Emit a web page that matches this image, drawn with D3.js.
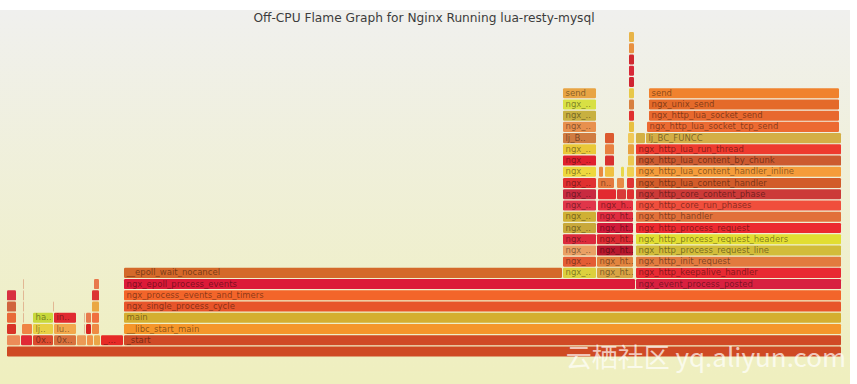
<!DOCTYPE html>
<html>
<head>
<meta charset="utf-8">
<script src="https://cdnjs.cloudflare.com/ajax/libs/d3/7.8.5/d3.min.js"></script>
<style>
  html, body { margin: 0; padding: 0; background: #fff; }
  svg { display: block; }
</style>
</head>
<body>
<svg width="857" height="384"></svg>
<script>
(function() {
  'use strict';

  const title = 'Off-CPU Flame Graph for Nginx Running lua-resty-mysql';
  const totalSamples = 834;
  const maxDepth = 28;

  // [label, depth, first sample, samples]
  const frames = [
    ['', 0, 0, 834],
    // depth 1
    ['', 1, 0, 13], ['', 1, 14, 11], ['0x..', 1, 26, 20], ['0x..', 1, 47, 22],
    ['', 1, 70, 9], ['', 1, 80, 6], ['', 1, 87, 6], ['_...', 1, 94, 22],
    ['_start', 1, 117, 717],
    // depth 2
    ['', 2, 0, 9], ['', 2, 15, 10], ['lj..', 2, 26, 20], ['lu..', 2, 47, 22],
    ['', 2, 79, 5], ['', 2, 85, 7], ['__libc_start_main', 2, 117, 717],
    // depth 3
    ['', 3, 0, 9], ['ha..', 3, 26, 20], ['in..', 3, 47, 22], ['', 3, 79, 5],
    ['', 3, 85, 7], ['main', 3, 117, 717],
    // depth 4
    ['', 4, 0, 9], ['', 4, 85, 7], ['ngx_single_process_cycle', 4, 117, 717],
    // depth 5
    ['', 5, 0, 9], ['', 5, 85, 7], ['ngx_process_events_and_timers', 5, 117, 717],
    // depth 6
    ['', 6, 87, 5], ['ngx_epoll_process_events', 6, 117, 511],
    ['ngx_event_process_posted', 6, 629, 205],
    // depth 7
    ['__epoll_wait_nocancel', 7, 117, 438], ['ngx_..', 7, 556, 33],
    ['ngx_ht..', 7, 590, 36], ['ngx_http_keepalive_handler', 7, 629, 205],
    // depth 8
    ['ngx_..', 8, 556, 33], ['ngx_ht..', 8, 590, 36], ['ngx_http_init_request', 8, 629, 205],
    // depth 9
    ['ngx_..', 9, 556, 33], ['ngx_ht..', 9, 590, 36],
    ['ngx_http_process_request_line', 9, 629, 205],
    // depth 10
    ['ngx..', 10, 556, 33], ['ngx_ht..', 10, 590, 36],
    ['ngx_http_process_request_headers', 10, 629, 205],
    // depth 11
    ['ngx_..', 11, 556, 33], ['ngx_ht..', 11, 590, 36], ['ngx_http_process_request', 11, 629, 205],
    // depth 12
    ['ngx_..', 12, 556, 33], ['ngx_ht..', 12, 590, 36], ['ngx_http_handler', 12, 629, 205],
    // depth 13
    ['ngx_..', 13, 556, 33], ['ngx_h..', 13, 591, 35], ['ngx_http_core_run_phases', 13, 629, 205],
    // depth 14
    ['ngx_..', 14, 556, 33], ['', 14, 591, 18], ['', 14, 610, 9], ['', 14, 620, 7],
    ['ngx_http_core_content_phase', 14, 629, 205],
    // depth 15
    ['ngx_..', 15, 556, 33], ['n..', 15, 591, 16], ['', 15, 610, 7], ['', 15, 620, 7],
    ['ngx_http_lua_content_handler', 15, 629, 205],
    // depth 16
    ['ngx_..', 16, 556, 33], ['', 16, 592, 4], ['', 16, 598, 9], ['', 16, 614, 3],
    ['', 16, 620, 7], ['ngx_http_lua_content_handler_inline', 16, 629, 205],
    // depth 17
    ['ngx_..', 17, 556, 33], ['', 17, 598, 9], ['', 17, 621, 6],
    ['ngx_http_lua_content_by_chunk', 17, 629, 205],
    // depth 18
    ['ngx_..', 18, 556, 33], ['', 18, 598, 9], ['', 18, 621, 6],
    ['ngx_http_lua_run_thread', 18, 629, 205],
    // depth 19
    ['lj_B..', 19, 556, 33], ['', 19, 598, 9], ['', 19, 621, 6], ['', 19, 629, 9],
    ['lj_BC_FUNCC', 19, 639, 195],
    // depth 20
    ['ngx_..', 20, 556, 33], ['', 20, 622, 5], ['ngx_http_lua_socket_tcp_send', 20, 640, 192],
    // depth 21
    ['ngx_..', 21, 556, 33], ['', 21, 622, 5], ['ngx_http_lua_socket_send', 21, 642, 190],
    // depth 22
    ['ngx_..', 22, 556, 33], ['', 22, 622, 5], ['ngx_unix_send', 22, 642, 190],
    // depth 23
    ['send', 23, 556, 33], ['', 23, 622, 5], ['send', 23, 642, 190],
    // depth 24 - 28
    ['', 24, 622, 5], ['', 25, 622, 5], ['', 26, 622, 5], ['', 27, 622, 5], ['', 28, 622, 5],
    // hairline frames
    ['', 3, 16, 0.6], ['', 4, 16, 0.6], ['', 5, 16, 0.6], ['', 6, 16, 0.6],
    ['', 4, 46, 0.6], ['', 2, 77, 0.6], ['', 3, 77, 0.6],
  ];

  // one fill per frame, same order as above
  const frameColors = [
    '#cf4a24',
    '#ec8c58', '#e02a36', '#dc4a2e', '#d8703c',
    '#eb9a56', '#f09448', '#eaa648', '#e62a26',
    '#d04a26',
    '#d83428', '#ef8444', '#e8d044', '#f2a84c',
    '#d82420', '#ee8a44', '#f5962a',
    '#e86a38', '#c8d83c', '#e02a30', '#e87a4c',
    '#f07040', '#d4ae30',
    '#d0643e', '#eaa844', '#e8552a',
    '#d83040', '#dc3434', '#f3652a',
    '#e8784c', '#dc1a38',
    '#d82040',
    '#d4692a', '#dcd03e',
    '#d8a444', '#e82a32',
    '#e45c34', '#e2843e', '#e27a3e',
    '#eaa064', '#b8182e',
    '#d2bc3a',
    '#dc2a3c', '#dc2a32',
    '#e2de32',
    '#c8a83a', '#d01a3a', '#ec2a30',
    '#cfb034', '#e02c40', '#e2703a',
    '#e0364a', '#e63040', '#f04e3c',
    '#c82a40', '#e22a30', '#d83a38', '#e03030',
    '#cc3a38',
    '#e03030', '#e4783c', '#e88a44', '#e03434',
    '#d25c2a',
    '#eed83e', '#e88a40', '#f0c040', '#e8d848',
    '#f0d050', '#f59c3a',
    '#e0202e', '#d83030', '#ecc850',
    '#cc5a30',
    '#eac838', '#e88040', '#e8a040',
    '#ee3a2e',
    '#d07c42', '#dc5a30', '#f0c858', '#d4b044',
    '#d4ae46',
    '#e8904e', '#e8c040', '#ec6a32',
    '#c8b040', '#e03030', '#e8682e',
    '#d8e044', '#d88040', '#e46a2a',
    '#e8a444', '#e8c848', '#f0822e',
    '#d02432', '#d82838', '#d02830', '#e89040', '#e8b448',
    '#d89070', '#d89070', '#d89070', '#d89070',
    '#d89070', '#d89070', '#d89070',
  ];

  const svg = d3.select('svg');
  const height = +svg.attr('height');

  const grad = svg.append('defs')
      .append('linearGradient')
      .attr('id', 'background')
      .attr('x1', 0).attr('y1', 0)
      .attr('x2', 0).attr('y2', 1);
  grad.append('stop').attr('offset', '0%').attr('stop-color', '#f0f0ee');
  grad.append('stop').attr('offset', '100%').attr('stop-color', '#efefbe');

  svg.append('rect')
      .attr('x', 0)
      .attr('y', 10)
      .attr('width', 850)
      .attr('height', height - 10)
      .attr('fill', 'url(#background)');

  svg.append('text')
      .attr('x', 424)
      .attr('y', 22)
      .attr('text-anchor', 'middle')
      .attr('font-family', 'DejaVu Sans, Verdana, sans-serif')
      .attr('font-size', 12.2)
      .attr('fill', '#3c3c3c')
      .text(title);

  const x = d3.scaleLinear()
      .domain([0, totalSamples])
      .range([7, 841]);

  const rowH = 11.23;
  const y = d3.scaleLinear()
      .domain([0, maxDepth + 1])
      .range([357.7, 357.7 - rowH * (maxDepth + 1)]);

  const g = svg.append('g').attr('class', 'frames');

  const cell = g.selectAll('g')
      .data(frames)
      .join('g')
      .attr('transform', (d) => 'translate(' + x(d[2]) + ',' + y(d[1] + 1) + ')');

  cell.append('rect')
      .attr('width', (d) => Math.max(0.5, x(d[2] + d[3]) - x(d[2])))
      .attr('height', rowH - 1.2)
      .attr('rx', 1.2)
      .attr('fill', (d, i) => frameColors[i]);

  cell.filter((d) => d[0] && x(d[2] + d[3]) - x(d[2]) > 10)
      .append('text')
      .attr('x', 2.5)
      .attr('y', 7.6)
      .attr('font-family', 'DejaVu Sans, Verdana, sans-serif')
      .attr('font-size', 8.5)
      .attr('fill', '#000')
      .attr('fill-opacity', 0.45)
      .text((d) => d[0]);

  // site watermark
  svg.append('text')
      .attr('x', 846)
      .attr('y', 367)
      .attr('text-anchor', 'end')
      .attr('font-family', 'Noto Sans CJK SC, sans-serif')
      .attr('font-size', 26)
      .attr('fill', '#fff')
      .attr('fill-opacity', 0.7)
      .text('云栖社区 yq.aliyun.com');
})();
</script>
</body>
</html>
